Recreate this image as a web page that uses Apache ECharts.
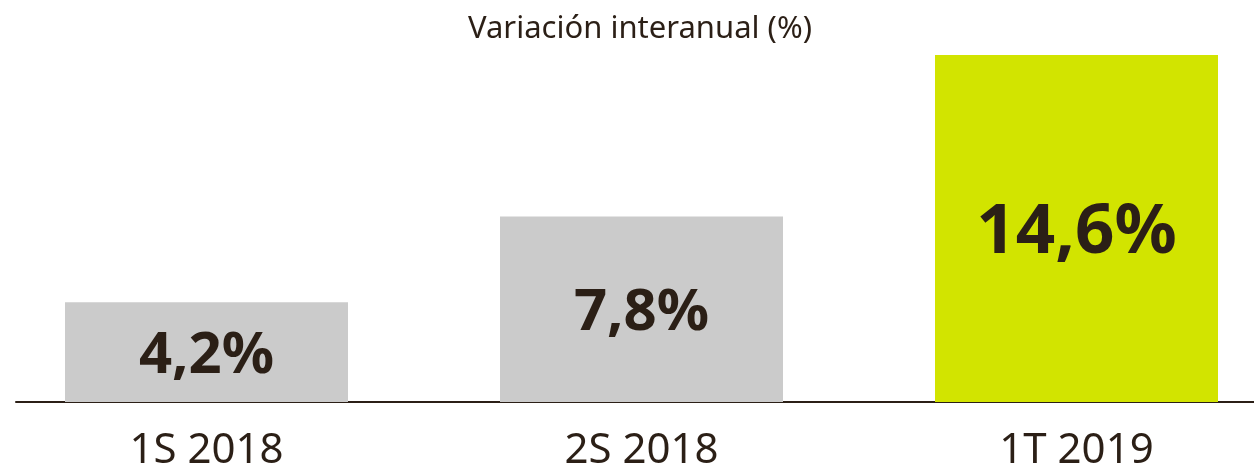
<!DOCTYPE html>
<html>
<head>
<meta charset="utf-8">
<script src="https://cdn.jsdelivr.net/npm/echarts@6/dist/echarts.min.js"></script>
<style>
  html, body { margin: 0; padding: 0; background: #fff; }
  #chart { width: 1254px; height: 470px; }
</style>
</head>
<body>
<div id="chart"></div>
<script>
var categories = ['1S 2018', '2S 2018', '1T 2019'];
var values = [4.2, 7.8, 14.6];
var title = 'Variación interanual (%)';

var ink = '#2b1f16';
var grey = '#cbcbcb';
var lime = '#d2e400';
var last = values.length - 1;

function fmt(v) {
    return String(v).replace('.', ',') + '%';
}

var chart = echarts.init(document.getElementById('chart'));
var option = {
    animation: false,
    title: {
        text: title,
        left: 463,
        top: 9,
        textStyle: { fontFamily: 'Noto Sans', fontSize: 31, fontWeight: 'normal', color: ink }
    },
    grid: [
        // bars, wider than the canvas so the bands line up with the original
        { left: -11, width: 1305, top: 55, bottom: 68, outerBoundsMode: 'none', containLabel: false },
        // baseline
        { left: 16, right: 0, top: 55, bottom: 68, outerBoundsMode: 'none', containLabel: false }
    ],
    xAxis: [
        {
            type: 'category',
            gridIndex: 0,
            data: categories,
            axisLine: { show: false },
            axisTick: { show: false },
            axisLabel: { margin: 28, fontFamily: 'Noto Sans', fontSize: 42, color: ink }
        },
        {
            type: 'category',
            gridIndex: 1,
            data: categories,
            axisLine: { show: true, lineStyle: { color: ink, width: 2 } },
            axisTick: { show: false },
            axisLabel: { show: false }
        }
    ],
    yAxis: [
        { type: 'value', gridIndex: 0, min: 0, max: 14.6, show: false, splitLine: { show: false } },
        { type: 'value', gridIndex: 1, min: 0, max: 14.6, show: false, splitLine: { show: false } }
    ],
    series: [{
        type: 'bar',
        xAxisIndex: 0,
        yAxisIndex: 0,
        barWidth: 283,
        data: values.map(function (v, i) {
            return {
                value: v,
                itemStyle: { color: i === last ? lime : grey },
                label: { fontSize: i === last ? 69 : 58, offset: [0, i === last ? 5 : 4] }
            };
        }),
        label: {
            show: true,
            position: 'inside',
            fontFamily: 'Noto Sans',
            fontWeight: 'bold',
            color: ink,
            formatter: function (p) { return fmt(p.value); }
        }
    }]
};
chart.setOption(option);
</script>
</body>
</html>
